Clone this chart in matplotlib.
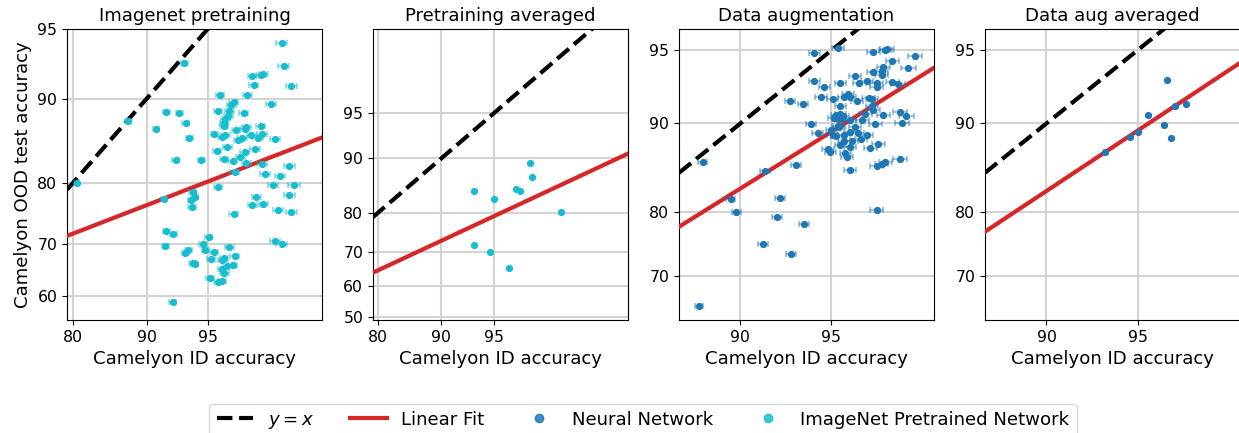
import numpy as np
import matplotlib
matplotlib.use("Agg")
import matplotlib.pyplot as plt
from matplotlib.lines import Line2D
from math import erf, sqrt

# ---- data (accuracies in %) ----
pre_id = [98.15, 93.4, 98.2, 97.6, 97.5, 97.2, 97.25, 98.4, 95.7, 97.0,
          97.85, 96.4, 96.3, 95.6, 96.2, 96.85, 91.9, 93.0, 96.15, 96.0,
          93.5, 95.9, 95.9, 96.95, 97.5, 90.95, 96.5, 96.9, 95.4, 96.0,
          95.8, 97.15, 97.55, 93.75, 96.6, 96.8, 97.4, 97.95, 96.1, 97.3,
          95.55, 96.9, 96.7, 95.9, 92.7, 94.6, 96.35, 96.95, 97.55, 98.35,
          96.45, 97.65, 98.1, 97.9, 98.45, 95.6, 98.35, 91.7, 94.0, 94.15,
          93.9, 93.95, 97.35, 97.2, 97.6, 98.05, 98.4, 96.4, 91.9, 92.5,
          91.8, 95.05, 94.7, 97.95, 98.15, 93.7, 93.45, 94.85, 95.35, 96.2,
          96.45, 95.2, 95.9, 95.8, 94.0, 94.15, 96.35, 96.1, 95.8, 95.95,
          95.15, 95.6, 95.8, 92.45, 80.6, 87.9]
pre_ood = [94.2, 92.9, 92.7, 92.1, 92.0, 91.9, 91.2, 91.1, 90.3, 90.3,
           89.5, 89.7, 89.4, 88.8, 88.8, 88.6, 88.7, 88.6, 88.3, 88.0,
           87.6, 87.6, 87.3, 87.1, 87.3, 86.9, 86.8, 86.9, 86.4, 86.2,
           86.0, 86.3, 86.4, 85.9, 85.7, 85.9, 85.9, 85.8, 84.8, 84.6,
           84.3, 84.2, 83.6, 83.3, 83.2, 83.2, 83.0, 82.8, 82.7, 82.4,
           81.6, 81.3, 81.0, 79.7, 79.75, 79.4, 78.1, 77.6, 78.6, 77.9,
           77.4, 76.3, 77.8, 76.6, 76.8, 75.8, 75.4, 75.2, 72.3, 71.8,
           69.6, 71.1, 70.0, 70.4, 69.9, 68.8, 68.3, 68.8, 68.5, 69.4,
           67.7, 67.2, 67.3, 67.0, 66.3, 66.2, 66.1, 65.8, 65.3, 64.5,
           63.4, 62.7, 62.9, 58.7, 80.0, 87.8]

pre_avg_id = [93.4, 95.0, 96.4, 96.6, 97.1, 97.2, 98.25, 93.4, 94.7, 96.0]
pre_avg_ood = [84.6, 82.9, 85.0, 84.5, 89.3, 87.0, 80.1, 72.0, 70.0, 65.5]

aug_id = [94.25, 95.25, 96.5, 96.85, 96.9, 97.6, 97.05, 97.45, 96.8, 96.75,
          96.5, 96.75, 95.9, 94.25, 95.35, 96.05, 96.3, 96.6, 97.05, 97.2,
          96.6, 94.7, 94.55, 95.05, 95.5, 95.65, 95.7, 95.95, 96.35, 96.45,
          93.05, 93.7, 95.35, 96.45, 96.5, 97.25, 97.4, 96.8, 96.25, 95.2,
          95.35, 95.25, 95.1, 95.4, 96.15, 95.7, 94.1, 97.3, 96.55, 95.9,
          95.3, 94.4, 95.0, 95.05, 95.2, 95.5, 95.7, 96.0, 96.3, 96.1,
          95.8, 95.5, 95.35, 95.7, 96.65, 96.4, 94.85, 94.95, 95.55, 95.6,
          97.25, 96.85, 96.75, 96.6, 87.1, 93.35, 95.7, 91.6, 89.3, 92.5,
          89.7, 96.6, 92.3, 93.75, 91.5, 93.1, 86.8, 95.3, 95.45, 95.25]
aug_ood = [94.85, 95.1, 94.9, 95.0, 95.05, 94.7, 94.4, 94.05, 94.1, 93.85,
           93.8, 93.6, 93.55, 93.2, 93.1, 93.1, 93.25, 93.1, 93.15, 93.0,
           92.85, 92.8, 92.15, 92.0, 92.1, 92.3, 92.1, 91.8, 92.05, 92.0,
           91.85, 91.6, 91.45, 91.45, 91.1, 91.0, 90.6, 90.7, 90.8, 90.7,
           90.8, 90.4, 90.45, 90.35, 90.3, 90.3, 89.95, 90.05, 89.95, 89.7,
           89.65, 89.15, 89.45, 89.0, 88.9, 89.0, 89.25, 89.1, 89.0, 88.6,
           88.4, 88.35, 87.95, 87.75, 88.05, 87.65, 87.6, 87.3, 87.15, 86.75,
           86.55, 86.2, 86.0, 85.8, 86.2, 85.9, 85.35, 85.15, 81.8, 81.9,
           80.0, 80.3, 79.3, 78.3, 75.3, 73.6, 64.6, 90.55, 90.6, 89.8]

aug_avg_id = [93.5, 94.7, 95.0, 95.4, 96.0, 96.1, 96.25, 96.35, 96.7]
aug_avg_ood = [87.3, 88.8, 89.2, 90.7, 89.9, 93.3, 88.7, 91.4, 91.6]

# linear fits in probit space (slope, intercept)
fits = [(0.338, 0.292), (0.5435, -0.081), (0.776, -0.036), (0.824, -0.110)]
n_id = 33560  # ID test set size for the 95% intervals

titles = ["Imagenet pretraining", "Pretraining averaged",
          "Data augmentation", "Data aug averaged"]
tick_vals = [50, 60, 70, 80, 90, 95]

# ---- probit scale helpers ----
_erf = np.vectorize(erf)


def norm_cdf(z):
    return 0.5 * (1 + _erf(np.asarray(z, float) / sqrt(2)))


def norm_ppf(p):
    p = np.clip(np.asarray(p, float), 1e-10, 1 - 1e-10)
    a = [-3.969683028665376e+01, 2.209460984245205e+02, -2.759285104469687e+02,
         1.383577518672690e+02, -3.066479806614716e+01, 2.506628277459239e+00]
    b = [-5.447609879822406e+01, 1.615858368580409e+02, -1.556989798598866e+02,
         6.680131188771972e+01, -1.328068155288572e+01]
    c = [-7.784894002430293e-03, -3.223964580411365e-01, -2.400758277161838e+00,
         -2.549732539343734e+00, 4.374664141464968e+00, 2.938163982698783e+00]
    d = [7.784695709041462e-03, 3.224671290700398e-01, 2.445134137142996e+00,
         3.754408661907416e+00]
    q = p - 0.5
    r = q * q
    mid = ((((((a[0]*r+a[1])*r+a[2])*r+a[3])*r+a[4])*r+a[5])*q /
           (((((b[0]*r+b[1])*r+b[2])*r+b[3])*r+b[4])*r+1))
    t = np.sqrt(-2 * np.log(np.minimum(p, 1 - p)))
    tail = ((((((c[0]*t+c[1])*t+c[2])*t+c[3])*t+c[4])*t+c[5]) /
            ((((d[0]*t+d[1])*t+d[2])*t+d[3])*t+1))
    tail = np.where(p < 0.5, tail, -tail)
    return np.where(np.abs(q) <= 0.5 - 0.02425, mid, tail)


def fwd(x):
    return norm_ppf(np.asarray(x, float) / 100)


def inv(z):
    return 100 * norm_cdf(z)


def ci(acc):
    p = np.asarray(acc) / 100
    return 1.96 * np.sqrt(p * (1 - p) / n_id) * 100


blue = "#1f77b4"
cyan = "#17becf"
red = "#d62728"

plt.rcParams['font.family'] = 'DejaVu Sans'
fig = plt.figure(figsize=(12.39, 4.33), dpi=100)

lefts = [0.0541, 0.3010, 0.5480, 0.7950]
xlims = [(79, 99), (79, 99.5), (85, 98), (85, 98)]
ylims = [(55, 95), (49, 99), (62, 96), (62, 96)]
sets = [(pre_id, pre_ood, cyan, True), (pre_avg_id, pre_avg_ood, cyan, False),
        (aug_id, aug_ood, blue, True), (aug_avg_id, aug_avg_ood, blue, False)]

for i in range(4):
    ax = fig.add_axes([lefts[i], 0.261, 0.2058, 0.6721])
    ax.set_xscale('function', functions=(fwd, inv))
    ax.set_yscale('function', functions=(fwd, inv))
    x, y, col, err = sets[i]
    lo, hi = xlims[i]
    ylo, yhi = ylims[i]
    xs = np.array([lo, hi])
    ax.plot(xs, xs, '--', color='black', lw=3, zorder=3)
    s, b = fits[i]
    ax.plot(xs, inv(s * fwd(xs) + b), '-', color=red, lw=3, zorder=3)
    if err:
        ax.errorbar(x, y, xerr=ci(x), fmt='none', ecolor=col, alpha=0.5,
                    elinewidth=1.2, capsize=2, capthick=1.2, zorder=4)
    ax.plot(x, y, 'o', ms=4.2, color=col, zorder=5, lw=0)
    ax.set_xlim(lo, hi)
    ax.set_ylim(ylo, yhi)
    xt = [t for t in tick_vals if lo <= t <= hi]
    yt = [t for t in tick_vals if ylo <= t <= yhi]
    ax.set_xticks(xt)
    ax.set_yticks(yt)
    ax.set_xticklabels([str(t) for t in xt])
    ax.set_yticklabels([str(t) for t in yt])
    ax.xaxis.set_minor_locator(matplotlib.ticker.NullLocator())
    ax.yaxis.set_minor_locator(matplotlib.ticker.NullLocator())
    ax.tick_params(labelsize=11.3)
    ax.grid(True, color='#d3d3d3', lw=1.5, zorder=0)
    ax.set_axisbelow(True)
    ax.set_title(titles[i], fontsize=13.1)
    ax.set_xlabel("Camelyon ID accuracy", fontsize=13.1)
    if i == 0:
        ax.set_ylabel("Camelyon OOD test accuracy", fontsize=13.1)

handles = [Line2D([], [], ls='--', color='black', lw=3),
           Line2D([], [], ls='-', color=red, lw=3),
           Line2D([], [], ls='', marker='o', ms=6, color=blue, alpha=0.85),
           Line2D([], [], ls='', marker='o', ms=6, color=cyan, alpha=0.85)]
labels = ["$y = x$", "Linear Fit", "Neural Network", "ImageNet Pretrained Network"]
fig.legend(handles, labels, loc='upper center', bbox_to_anchor=(0.519, 0.068),
           borderaxespad=0, ncol=4, fontsize=13.1, columnspacing=2.0)

fig.savefig("out.png", dpi=100)
